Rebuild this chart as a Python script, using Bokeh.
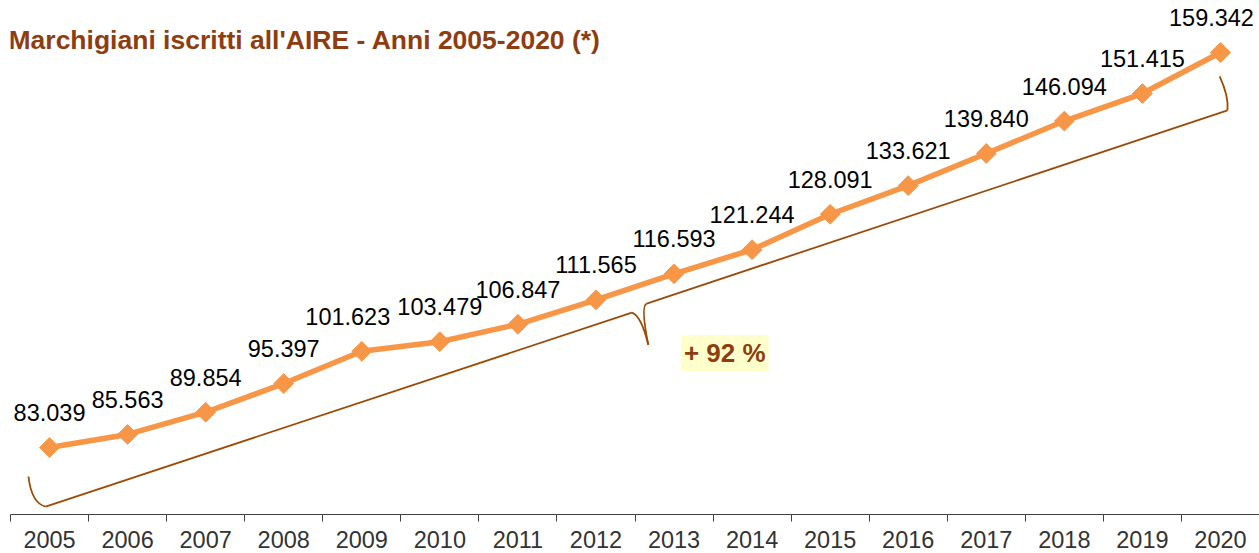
from bokeh.plotting import figure
from bokeh.models import FixedTicker, Label, ColumnDataSource, Range1d
from bokeh.embed import file_html
from bokeh.resources import INLINE
from bokeh.core.properties import value
import math

# ---- data ----
years = ["2005", "2006", "2007", "2008", "2009", "2010", "2011", "2012",
         "2013", "2014", "2015", "2016", "2017", "2018", "2019", "2020"]
iscritti = [83039, 85563, 89854, 95397, 101623, 103479, 106847, 111565,
            116593, 121244, 128091, 133621, 139840, 146094, 151415, 159342]
increase_label = "+ 92 %"
title_text = "Marchigiani iscritti all'AIRE - Anni 2005-2020 (*)"

# ---- styles ----
FONT = "Liberation Sans"
ORANGE = "#F79646"
BROWN = "#8E3D10"
BRACE = "#9C4A06"
label_dx = [0, 0, 0, 0, -14, 0, 0, 0, 0, 0, 0, 0, 0, 0, 0, -9]

xs = list(range(len(years)))
labels = [f"{v:,}".replace(",", ".") for v in iscritti]
src = ColumnDataSource(dict(x=xs, y=iscritti, lab=labels, dx=label_dx))

p = figure(width=1259, height=553,
           x_range=Range1d(-0.5, len(years) - 0.5),
           y_range=Range1d(70098, 169386),
           output_backend="svg", toolbar_location=None,
           y_axis_location=None,
           min_border_left=10, min_border_right=0,
           min_border_top=0, min_border_bottom=39)
p.outline_line_color = None
p.grid.visible = False
p.background_fill_color = "white"

# ---- brace annotation (derived from first/last values) ----
v0, v1 = iscritti[0], iscritti[-1]
bx0, by0 = 0 - 0.05, v0 - 11400
bx1, by1 = (len(years) - 1) + 0.09, v1 - 11200
mx, my = (bx0 + bx1) / 2, (by0 + by1) / 2
slope = (by1 - by0) / (bx1 - bx0)
cx, cy = mx - 0.06, my - 0.06 * slope - 500
dx_, dy_ = mx + 0.13, my + 0.13 * slope + 300
tx, ty = mx + 0.15, my - 7000
p.segment(x0=[bx0, dx_], y0=[by0, dy_], x1=[cx, bx1], y1=[cy, by1],
          line_color=BRACE, line_width=1.8)
p.quadratic(x0=[bx0 - 0.22, cx, tx, bx1 - 0.10],
            y0=[by0 + 5800, cy, ty, by1 + 6570],
            x1=[bx0, tx, dx_, bx1],
            y1=[by0, ty, dy_, by1],
            cx=[bx0 - 0.18, cx + 0.12, tx - 0.10, bx1 + 0.02],
            cy=[by0 + 600, cy - 600, dy_ - 400, by1 + 2600],
            line_color=BRACE, line_width=1.8)

# ---- series ----
p.line("x", "y", source=src, line_color=ORANGE, line_width=5.5)
p.scatter("x", "y", source=src, marker="square", size=14, angle=math.pi / 4,
          fill_color=ORANGE, line_color=ORANGE)
p.text("x", "y", text="lab", source=src, x_offset="dx", y_offset=-35,
       text_align="center", text_baseline="middle",
       text_font=value(FONT), text_font_size="23.5px", text_color="#000000")

# ---- increase label ----
p.add_layout(Label(x=8.65, y=101300, text=increase_label,
                   text_align="center", text_baseline="middle",
                   text_font=FONT, text_font_size="26px", text_font_style="bold",
                   text_color=BROWN, background_fill_color="#FFFFCC",
                   padding=3))

# ---- title ----
p.add_layout(Label(x=-2, y=475, x_units="screen", y_units="screen",
                   text=title_text, text_align="left", text_baseline="alphabetic",
                   text_font=FONT, text_font_size="26.5px", text_font_style="bold",
                   text_color=BROWN))

# ---- x axis ----
ax = p.xaxis[0]
ax.ticker = FixedTicker(ticks=xs, minor_ticks=[i - 0.5 for i in range(len(years) + 1)])
ax.major_label_overrides = {i: y for i, y in enumerate(years)}
ax.major_tick_out = 0
ax.major_tick_in = 0
ax.minor_tick_out = 7
ax.minor_tick_in = 0
ax.major_label_standoff = 9
ax.axis_line_color = "#404040"
ax.minor_tick_line_color = "#404040"
ax.major_label_text_font = FONT
ax.major_label_text_font_size = "23.5px"
ax.major_label_text_color = "#333333"

open("out.html", "w").write(file_html(p, INLINE))
